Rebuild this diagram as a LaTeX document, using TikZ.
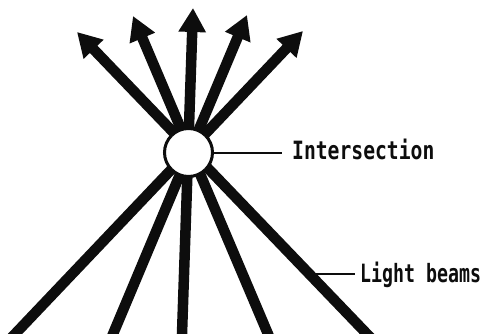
\documentclass[tikz,border=0pt]{standalone}
\usepackage{fontspec}
\usepackage{graphicx}
\setmonofont{DejaVu Sans Mono}
\usetikzlibrary{arrows.meta}
\definecolor{beamink}{HTML}{0D0D0D}
\newcommand{\narrowtext}[2][0.82]{\scalebox{#1}[1.05]{#2}}

\begin{document}
\begin{tikzpicture}[
  x=1pt,
  y=-1pt,
  every node/.style={beamink},
  beam/.style={beamink, line width=10.5pt, shorten <=-12pt},
  ray/.style={beam, -{Triangle[length=24pt, width=26pt]}},
  crossing/.style={circle, draw=beamink, line width=3pt, fill=white,
                   minimum size=48pt, inner sep=0pt},
  pointer/.style={beamink, line width=2pt},
  tag/.style={font=\fontsize{24}{24}\selectfont\ttfamily\bfseries,
              inner sep=0pt, anchor=base west}
]
  \useasboundingbox (0,0) rectangle (487,334);
  \clip (0,0) rectangle (487,334);

  % ================= the five beams, bottom end and arrow tip ============
  \foreach \bx/\tx/\ty [count=\i] in
      {15/303/31, 113/247/15, 182/193/8, 268/133/16, 367/77/32} {
    \coordinate (b\i) at (\bx,334);
    \coordinate (t\i) at (\tx,\ty);
  }
  \foreach \i in {1,...,5}
    \draw[ray] (b\i) -- (t\i);

  % ================= the crossing point =================================
  \node[crossing] (isect) at (188.5,152.5) {};

  % ================= labels =============================================
  \node[tag] (isectlabel) at (292,160) {\narrowtext{Intersection}};
  \draw[pointer, shorten >=10pt] (isect.east) -- (isect.east -| isectlabel.west);

  % the pointer starts on the fifth beam
  \coordinate (beamhit) at (309,274);
  \node[tag] (beamlabel) at (360,282) {\narrowtext[0.76]{Light beams}};
  \draw[pointer, shorten >=5pt] (beamhit) -- (beamhit -| beamlabel.west);
\end{tikzpicture}
\end{document}
